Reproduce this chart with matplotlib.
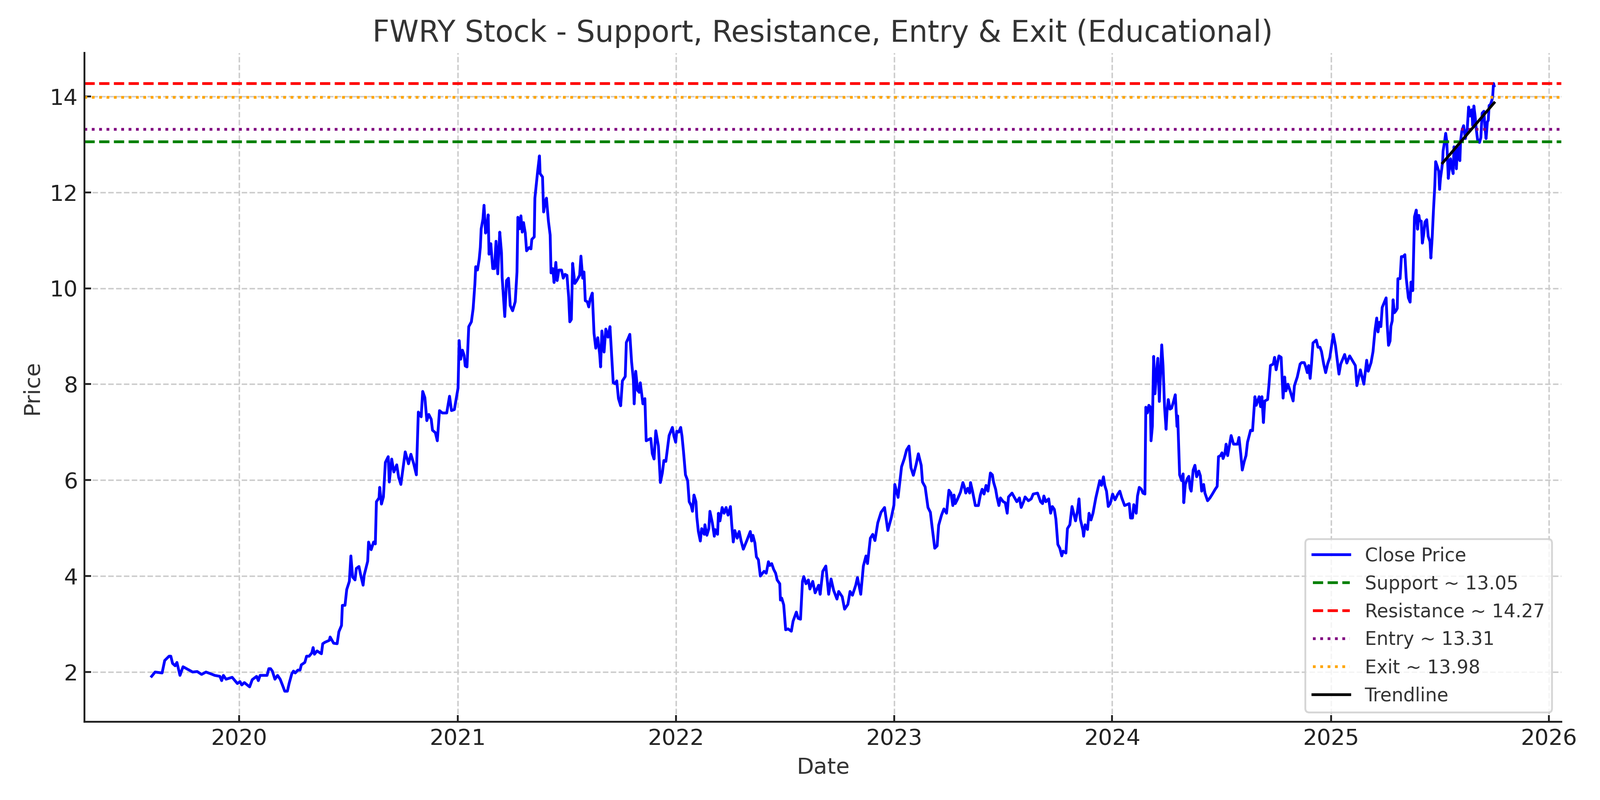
import numpy as np
import pandas as pd
import matplotlib
matplotlib.use("Agg")
import matplotlib.pyplot as plt
import matplotlib.dates as mdates

# Close prices; time is given as decimal year
t_2019_2020 = [2019.599, 2019.615, 2019.647, 2019.659, 2019.679, 2019.687, 2019.695, 2019.707, 2019.715, 2019.729,
               2019.743, 2019.759, 2019.787, 2019.808, 2019.828, 2019.848, 2019.872, 2019.888, 2019.912, 2019.920,
               2019.928, 2019.940, 2019.968, 2019.992, 2020.004, 2020.012, 2020.024, 2020.048, 2020.060, 2020.080,
               2020.088, 2020.096, 2020.128, 2020.136, 2020.144, 2020.152, 2020.164, 2020.176, 2020.188, 2020.200,
               2020.209, 2020.221, 2020.229, 2020.241, 2020.249, 2020.257, 2020.269, 2020.279, 2020.285, 2020.301,
               2020.309, 2020.321, 2020.333, 2020.339, 2020.345, 2020.357, 2020.377, 2020.383, 2020.393, 2020.413,
               2020.417, 2020.433, 2020.449, 2020.457, 2020.469, 2020.473, 2020.485, 2020.493, 2020.505, 2020.512,
               2020.520, 2020.531, 2020.537, 2020.549, 2020.557, 2020.568, 2020.573, 2020.589, 2020.593, 2020.605,
               2020.616, 2020.624, 2020.629, 2020.641, 2020.644, 2020.652, 2020.661, 2020.670, 2020.683, 2020.688,
               2020.699, 2020.709, 2020.722, 2020.731, 2020.741, 2020.761, 2020.776, 2020.787, 2020.800, 2020.812,
               2020.821, 2020.834, 2020.841, 2020.851, 2020.860, 2020.869, 2020.880, 2020.886, 2020.899, 2020.908,
               2020.918, 2020.931, 2020.951, 2020.964, 2020.973, 2020.986]
close_2019_2020 = [1.91, 2.00, 1.98, 2.24, 2.33, 2.33, 2.18, 2.13, 2.20, 1.93,
                   2.11, 2.07, 2.00, 2.01, 1.95, 2.00, 1.96, 1.93, 1.91, 1.82,
                   1.93, 1.85, 1.89, 1.76, 1.80, 1.73, 1.78, 1.69, 1.84, 1.91,
                   1.82, 1.93, 1.93, 2.07, 2.07, 2.02, 1.85, 1.93, 1.85, 1.71,
                   1.60, 1.60, 1.76, 1.96, 2.02, 1.98, 2.04, 2.04, 2.15, 2.20,
                   2.33, 2.33, 2.40, 2.51, 2.37, 2.44, 2.38, 2.59, 2.62, 2.66,
                   2.73, 2.60, 2.59, 2.84, 2.97, 3.39, 3.39, 3.72, 3.89, 4.42,
                   3.98, 3.92, 4.16, 4.20, 4.02, 3.81, 4.02, 4.31, 4.71, 4.55,
                   4.71, 4.67, 5.55, 5.63, 5.85, 5.50, 5.65, 6.37, 6.49, 5.96,
                   6.44, 6.17, 6.32, 6.06, 5.91, 6.59, 6.34, 6.54, 6.34, 6.11,
                   7.42, 7.32, 7.85, 7.72, 7.24, 7.37, 7.27, 7.04, 6.99, 6.82,
                   7.45, 7.40, 7.40, 7.75, 7.45, 7.47]

t_2021 = [2021.003, 2021.008, 2021.015, 2021.023, 2021.031, 2021.036, 2021.044, 2021.052, 2021.064, 2021.072,
          2021.080, 2021.084, 2021.092, 2021.100, 2021.105, 2021.109, 2021.117, 2021.122, 2021.129, 2021.135,
          2021.141, 2021.145, 2021.153, 2021.162, 2021.170, 2021.177, 2021.185, 2021.194, 2021.202, 2021.205,
          2021.217, 2021.225, 2021.234, 2021.242, 2021.253, 2021.265, 2021.273, 2021.277, 2021.285, 2021.291,
          2021.297, 2021.303, 2021.311, 2021.317, 2021.329, 2021.337, 2021.341, 2021.352, 2021.355, 2021.368,
          2021.376, 2021.379, 2021.390, 2021.395, 2021.401, 2021.408, 2021.417, 2021.425, 2021.429, 2021.437,
          2021.443, 2021.451, 2021.457, 2021.465, 2021.477, 2021.485, 2021.493, 2021.502, 2021.510, 2021.515,
          2021.522, 2021.528, 2021.538, 2021.547, 2021.560, 2021.566, 2021.574, 2021.580, 2021.586, 2021.595,
          2021.602, 2021.608, 2021.618, 2021.626, 2021.634, 2021.643, 2021.652, 2021.656, 2021.662, 2021.672,
          2021.680, 2021.690, 2021.699, 2021.706, 2021.714, 2021.722, 2021.730, 2021.738, 2021.748, 2021.756,
          2021.769, 2021.774, 2021.782, 2021.790, 2021.798, 2021.806, 2021.810, 2021.817, 2021.826, 2021.833,
          2021.838, 2021.850, 2021.859, 2021.865, 2021.886, 2021.893, 2021.901, 2021.909, 2021.921, 2021.930,
          2021.939, 2021.946, 2021.955, 2021.970, 2021.985, 2021.992]
close_2021 = [7.92, 8.91, 8.52, 8.71, 8.60, 8.38, 8.36, 9.20, 9.30, 9.57,
              10.08, 10.45, 10.38, 10.61, 10.85, 11.24, 11.44, 11.73, 11.15, 11.26,
              11.53, 10.71, 10.93, 10.41, 10.41, 10.98, 10.30, 11.17, 10.74, 10.23,
              9.41, 10.16, 10.21, 9.64, 9.53, 9.72, 10.34, 11.48, 11.24, 11.51,
              11.17, 11.37, 11.15, 10.78, 10.85, 10.82, 11.02, 11.07, 11.88, 12.45,
              12.76, 12.39, 12.32, 11.59, 11.77, 11.88, 11.40, 11.11, 10.32, 10.41,
              10.12, 10.54, 10.16, 10.38, 10.38, 10.21, 10.29, 10.27, 9.81, 9.30,
              9.35, 10.52, 10.10, 10.16, 10.27, 10.67, 10.21, 10.34, 9.74, 9.72,
              9.61, 9.77, 9.90, 9.06, 8.75, 8.97, 8.62, 8.36, 9.11, 8.67,
              9.15, 8.98, 9.20, 8.65, 8.03, 8.01, 8.07, 7.70, 7.55, 8.07,
              8.16, 8.87, 8.95, 9.04, 8.47, 8.10, 7.59, 8.27, 7.87, 7.83,
              8.03, 7.59, 7.70, 6.82, 6.87, 6.55, 6.44, 7.03, 6.71, 5.95,
              6.15, 6.41, 6.39, 6.93, 7.10, 6.92]

t_2022 = [2022.000, 2022.005, 2022.014, 2022.023, 2022.029, 2022.036, 2022.045, 2022.055, 2022.062, 2022.071,
          2022.077, 2022.084, 2022.093, 2022.097, 2022.104, 2022.113, 2022.119, 2022.131, 2022.134, 2022.143,
          2022.152, 2022.157, 2022.168, 2022.177, 2022.181, 2022.192, 2022.196, 2022.203, 2022.213, 2022.222,
          2022.231, 2022.240, 2022.251, 2022.257, 2022.264, 2022.271, 2022.282, 2022.291, 2022.300, 2022.310,
          2022.326, 2022.342, 2022.348, 2022.354, 2022.363, 2022.370, 2022.379, 2022.388, 2022.398, 2022.405,
          2022.415, 2022.425, 2022.431, 2022.440, 2022.449, 2022.458, 2022.465, 2022.477, 2022.480, 2022.486,
          2022.495, 2022.504, 2022.515, 2022.530, 2022.538, 2022.553, 2022.561, 2022.572, 2022.581, 2022.587,
          2022.597, 2022.608, 2022.615, 2022.628, 2022.639, 2022.655, 2022.662, 2022.674, 2022.688, 2022.701,
          2022.712, 2022.724, 2022.739, 2022.747, 2022.763, 2022.774, 2022.789, 2022.799, 2022.810, 2022.825,
          2022.833, 2022.848, 2022.860, 2022.872, 2022.879, 2022.892, 2022.903, 2022.913, 2022.926, 2022.941,
          2022.957, 2022.972, 2022.988]
close_2022 = [6.79, 7.02, 7.00, 7.10, 6.92, 6.59, 6.11, 5.99, 5.55, 5.47,
              5.35, 5.69, 5.55, 5.23, 4.93, 4.73, 4.99, 4.87, 5.07, 4.85,
              4.99, 5.35, 5.11, 4.83, 4.97, 4.87, 5.31, 5.15, 5.43, 5.31,
              5.43, 5.27, 5.45, 5.07, 4.71, 4.95, 4.79, 4.93, 4.73, 4.56,
              4.74, 4.93, 4.73, 4.85, 4.69, 4.40, 4.34, 4.00, 4.06, 4.10,
              4.06, 4.30, 4.22, 4.26, 4.14, 4.06, 3.92, 3.84, 3.50, 3.54,
              3.40, 2.88, 2.90, 2.85, 3.06, 3.25, 3.12, 3.10, 3.89, 3.99,
              3.84, 3.92, 3.73, 3.89, 3.65, 3.81, 3.62, 4.10, 4.21, 3.62,
              3.94, 3.70, 3.52, 3.68, 3.57, 3.31, 3.41, 3.68, 3.60, 3.81,
              3.97, 3.62, 4.21, 4.42, 4.26, 4.79, 4.87, 4.74, 5.11, 5.33,
              5.43, 4.95, 5.22]

t_2023 = [2023.000, 2023.004, 2023.019, 2023.035, 2023.047, 2023.058, 2023.069, 2023.078, 2023.089, 2023.101,
          2023.112, 2023.125, 2023.131, 2023.143, 2023.156, 2023.167, 2023.174, 2023.187, 2023.198, 2023.205,
          2023.218, 2023.229, 2023.241, 2023.252, 2023.261, 2023.270, 2023.275, 2023.281, 2023.290, 2023.305,
          2023.316, 2023.322, 2023.329, 2023.338, 2023.347, 2023.351, 2023.360, 2023.373, 2023.387, 2023.396,
          2023.404, 2023.413, 2023.422, 2023.431, 2023.442, 2023.451, 2023.457, 2023.466, 2023.472, 2023.481,
          2023.488, 2023.501, 2023.510, 2023.519, 2023.525, 2023.541, 2023.563, 2023.575, 2023.583, 2023.594,
          2023.601, 2023.616, 2023.629, 2023.638, 2023.658, 2023.672, 2023.681, 2023.687, 2023.696, 2023.709,
          2023.718, 2023.726, 2023.735, 2023.742, 2023.751, 2023.760, 2023.769, 2023.775, 2023.788, 2023.795,
          2023.806, 2023.816, 2023.832, 2023.841, 2023.848, 2023.854, 2023.866, 2023.869, 2023.876, 2023.887,
          2023.894, 2023.903, 2023.912, 2023.925, 2023.934, 2023.943, 2023.951, 2023.960, 2023.966, 2023.974,
          2023.982, 2023.991]
close_2023 = [5.48, 5.91, 5.64, 6.28, 6.44, 6.63, 6.71, 6.26, 6.10, 6.31,
              6.55, 6.31, 5.96, 5.86, 5.43, 5.33, 5.06, 4.58, 4.63, 5.06,
              5.27, 5.40, 5.31, 5.79, 5.73, 5.47, 5.69, 5.51, 5.59, 5.75,
              5.95, 5.87, 5.73, 5.83, 5.73, 5.95, 5.77, 5.47, 5.47, 5.69,
              5.81, 5.71, 5.89, 5.77, 6.15, 6.11, 5.95, 5.81, 5.65, 5.47,
              5.63, 5.55, 5.53, 5.31, 5.65, 5.73, 5.55, 5.63, 5.43, 5.55,
              5.65, 5.57, 5.61, 5.71, 5.73, 5.55, 5.51, 5.67, 5.55, 5.61,
              5.31, 5.45, 5.39, 5.19, 4.66, 4.58, 4.42, 4.52, 4.48, 4.99,
              5.07, 5.45, 5.15, 5.35, 5.61, 5.19, 4.95, 4.83, 5.07, 4.97,
              5.31, 5.17, 5.31, 5.63, 5.81, 5.99, 5.89, 6.07, 5.89, 5.77,
              5.45, 5.51]

t_2024 = [2024.002, 2024.013, 2024.026, 2024.035, 2024.044, 2024.057, 2024.078, 2024.084, 2024.093, 2024.099,
          2024.110, 2024.116, 2024.124, 2024.134, 2024.141, 2024.150, 2024.154, 2024.161, 2024.168, 2024.175,
          2024.178, 2024.184, 2024.190, 2024.196, 2024.203, 2024.209, 2024.216, 2024.222, 2024.227, 2024.233,
          2024.240, 2024.247, 2024.251, 2024.257, 2024.265, 2024.272, 2024.281, 2024.289, 2024.297, 2024.300,
          2024.309, 2024.318, 2024.325, 2024.328, 2024.335, 2024.344, 2024.351, 2024.357, 2024.362, 2024.371,
          2024.379, 2024.387, 2024.397, 2024.404, 2024.410, 2024.419, 2024.425, 2024.437, 2024.448, 2024.459,
          2024.472, 2024.481, 2024.487, 2024.496, 2024.503, 2024.508, 2024.516, 2024.522, 2024.529, 2024.545,
          2024.556, 2024.574, 2024.581, 2024.589, 2024.596, 2024.605, 2024.613, 2024.620, 2024.634, 2024.643,
          2024.654, 2024.660, 2024.673, 2024.680, 2024.686, 2024.693, 2024.699, 2024.712, 2024.718, 2024.725,
          2024.738, 2024.744, 2024.751, 2024.758, 2024.764, 2024.774, 2024.783, 2024.790, 2024.796, 2024.805,
          2024.816, 2024.829, 2024.835, 2024.848, 2024.861, 2024.868, 2024.880, 2024.887, 2024.894, 2024.900,
          2024.907, 2024.913, 2024.920, 2024.935, 2024.943, 2024.952, 2024.959, 2024.969, 2024.978, 2024.987,
          2024.997]
close_2024 = [5.71, 5.59, 5.71, 5.77, 5.63, 5.47, 5.51, 5.21, 5.21, 5.49,
              5.31, 5.67, 5.85, 5.81, 5.73, 5.71, 7.52, 7.40, 7.56, 7.52,
              6.82, 7.12, 8.58, 7.80, 8.24, 8.54, 7.64, 8.28, 8.82, 8.38,
              7.52, 7.06, 7.42, 7.68, 7.48, 7.50, 7.64, 7.78, 7.12, 7.34,
              6.11, 5.99, 6.13, 5.53, 5.91, 6.03, 6.08, 5.83, 5.77, 6.21,
              6.31, 6.07, 6.19, 6.09, 5.77, 5.91, 5.73, 5.57, 5.63, 5.71,
              5.81, 5.87, 6.49, 6.51, 6.57, 6.45, 6.55, 6.75, 6.51, 6.93,
              6.75, 6.75, 6.89, 6.55, 6.21, 6.39, 6.51, 6.79, 7.04, 7.03,
              7.74, 7.56, 7.74, 7.53, 7.74, 7.20, 7.65, 7.68, 7.97, 8.39,
              8.42, 8.56, 8.30, 8.46, 8.59, 8.56, 7.71, 8.15, 7.86, 8.00,
              7.85, 7.65, 7.97, 8.15, 8.42, 8.45, 8.45, 8.36, 8.24, 8.39,
              8.12, 8.42, 8.86, 8.92, 8.77, 8.77, 8.68, 8.42, 8.24, 8.42,
              8.56]

t_2025 = [2025.004, 2025.013, 2025.023, 2025.039, 2025.047, 2025.065, 2025.075, 2025.088, 2025.114, 2025.121,
          2025.137, 2025.153, 2025.166, 2025.173, 2025.186, 2025.195, 2025.204, 2025.212, 2025.218, 2025.224,
          2025.231, 2025.237, 2025.247, 2025.255, 2025.260, 2025.266, 2025.273, 2025.277, 2025.283, 2025.287,
          2025.293, 2025.300, 2025.306, 2025.309, 2025.319, 2025.325, 2025.333, 2025.341, 2025.347, 2025.357,
          2025.365, 2025.369, 2025.377, 2025.385, 2025.393, 2025.399, 2025.405, 2025.409, 2025.416, 2025.421,
          2025.427, 2025.433, 2025.441, 2025.448, 2025.456, 2025.460, 2025.466, 2025.472, 2025.478, 2025.482,
          2025.490, 2025.496, 2025.500, 2025.504, 2025.510, 2025.514, 2025.516, 2025.522, 2025.528, 2025.533,
          2025.540, 2025.545, 2025.550, 2025.556, 2025.562, 2025.566, 2025.572, 2025.577, 2025.582, 2025.586,
          2025.593, 2025.596, 2025.602, 2025.610, 2025.618, 2025.627, 2025.633, 2025.639, 2025.647, 2025.652,
          2025.657, 2025.663, 2025.668, 2025.675, 2025.683, 2025.689, 2025.695, 2025.703, 2025.707, 2025.713,
          2025.719, 2025.723, 2025.727, 2025.733, 2025.739, 2025.743, 2025.747, 2025.750]
close_2025 = [8.77, 9.04, 8.80, 8.21, 8.42, 8.62, 8.44, 8.59, 8.39, 7.97,
              8.30, 8.00, 8.50, 8.27, 8.45, 8.68, 9.12, 9.38, 9.09, 9.29,
              9.20, 9.60, 9.71, 9.80, 9.25, 8.81, 8.90, 9.21, 9.32, 9.76,
              9.49, 9.53, 9.58, 10.20, 10.20, 10.66, 10.66, 10.70, 10.22, 9.80,
              9.71, 10.13, 9.95, 11.49, 11.63, 11.23, 11.52, 11.41, 11.40, 10.94,
              11.12, 11.38, 11.43, 11.08, 10.97, 10.63, 11.05, 11.63, 12.13, 12.64,
              12.53, 12.44, 12.06, 12.29, 12.49, 12.64, 12.86, 13.03, 13.23, 13.06,
              12.29, 12.51, 12.70, 12.51, 12.39, 12.95, 12.88, 12.49, 12.95, 12.81,
              12.66, 13.06, 13.28, 13.39, 13.12, 13.34, 13.78, 13.59, 13.72, 13.39,
              13.80, 13.58, 13.32, 13.06, 13.04, 13.14, 13.65, 13.69, 13.41, 13.12,
              13.47, 13.50, 13.81, 13.83, 13.91, 13.98, 14.27, 14.22]

support = 13.05
resistance = 14.27
entry = 13.31
exit_level = 13.98
trend_start = 2025.514

t = np.array(t_2019_2020 + t_2021 + t_2022 + t_2023 + t_2024 + t_2025)
close = np.array(close_2019_2020 + close_2021 + close_2022 + close_2023 + close_2024 + close_2025)
dates = pd.Timestamp("2020-01-01") + pd.to_timedelta((t - 2020) * 365.25, unit="D")

# trendline fitted on the last stretch of prices
mask = t >= trend_start
coef = np.polyfit(t[mask], close[mask], 1)
trend = np.polyval(coef, t[mask])

plt.rcParams["font.size"] = 12
plt.rcParams["text.color"] = "#333333"
plt.rcParams["axes.labelcolor"] = "#333333"
plt.rcParams["xtick.color"] = "#222222"
plt.rcParams["ytick.color"] = "#222222"
plt.rcParams["xtick.labelcolor"] = "#222222"
plt.rcParams["ytick.labelcolor"] = "#222222"

fig, ax = plt.subplots(figsize=(12, 6))
fig.subplots_adjust(left=0.0528, right=0.9758, top=0.9337, bottom=0.098)

ax.plot(dates, close, color="blue", linewidth=1.5, label="Close Price")
ax.axhline(support, color="green", linestyle="--", linewidth=1.5, label=f"Support ~ {support:.2f}")
ax.axhline(resistance, color="red", linestyle="--", linewidth=1.5, label=f"Resistance ~ {resistance:.2f}")
ax.axhline(entry, color="purple", linestyle=":", linewidth=1.5, label=f"Entry ~ {entry:.2f}")
ax.axhline(exit_level, color="orange", linestyle=":", linewidth=1.5, label=f"Exit ~ {exit_level:.2f}")
ax.plot(dates[mask], trend, color="black", linewidth=1.5, label="Trendline")

ax.set_title("FWRY Stock - Support, Resistance, Entry & Exit (Educational)", fontsize=16)
ax.set_xlabel("Date")
ax.set_ylabel("Price")
ax.xaxis.set_major_locator(mdates.YearLocator())
ax.xaxis.set_major_formatter(mdates.DateFormatter("%Y"))

ax.grid(True, linestyle="--", color="#cccccc", linewidth=0.8)
ax.set_axisbelow(True)
for side in ["top", "right"]:
    ax.spines[side].set_visible(False)
for side in ["left", "bottom"]:
    ax.spines[side].set_color("#222222")
    ax.spines[side].set_linewidth(1.0)
ax.tick_params(direction="in", length=3.5, width=1.0)

ax.legend(loc="lower right", fontsize=10)

plt.savefig("out.png", dpi=300)
